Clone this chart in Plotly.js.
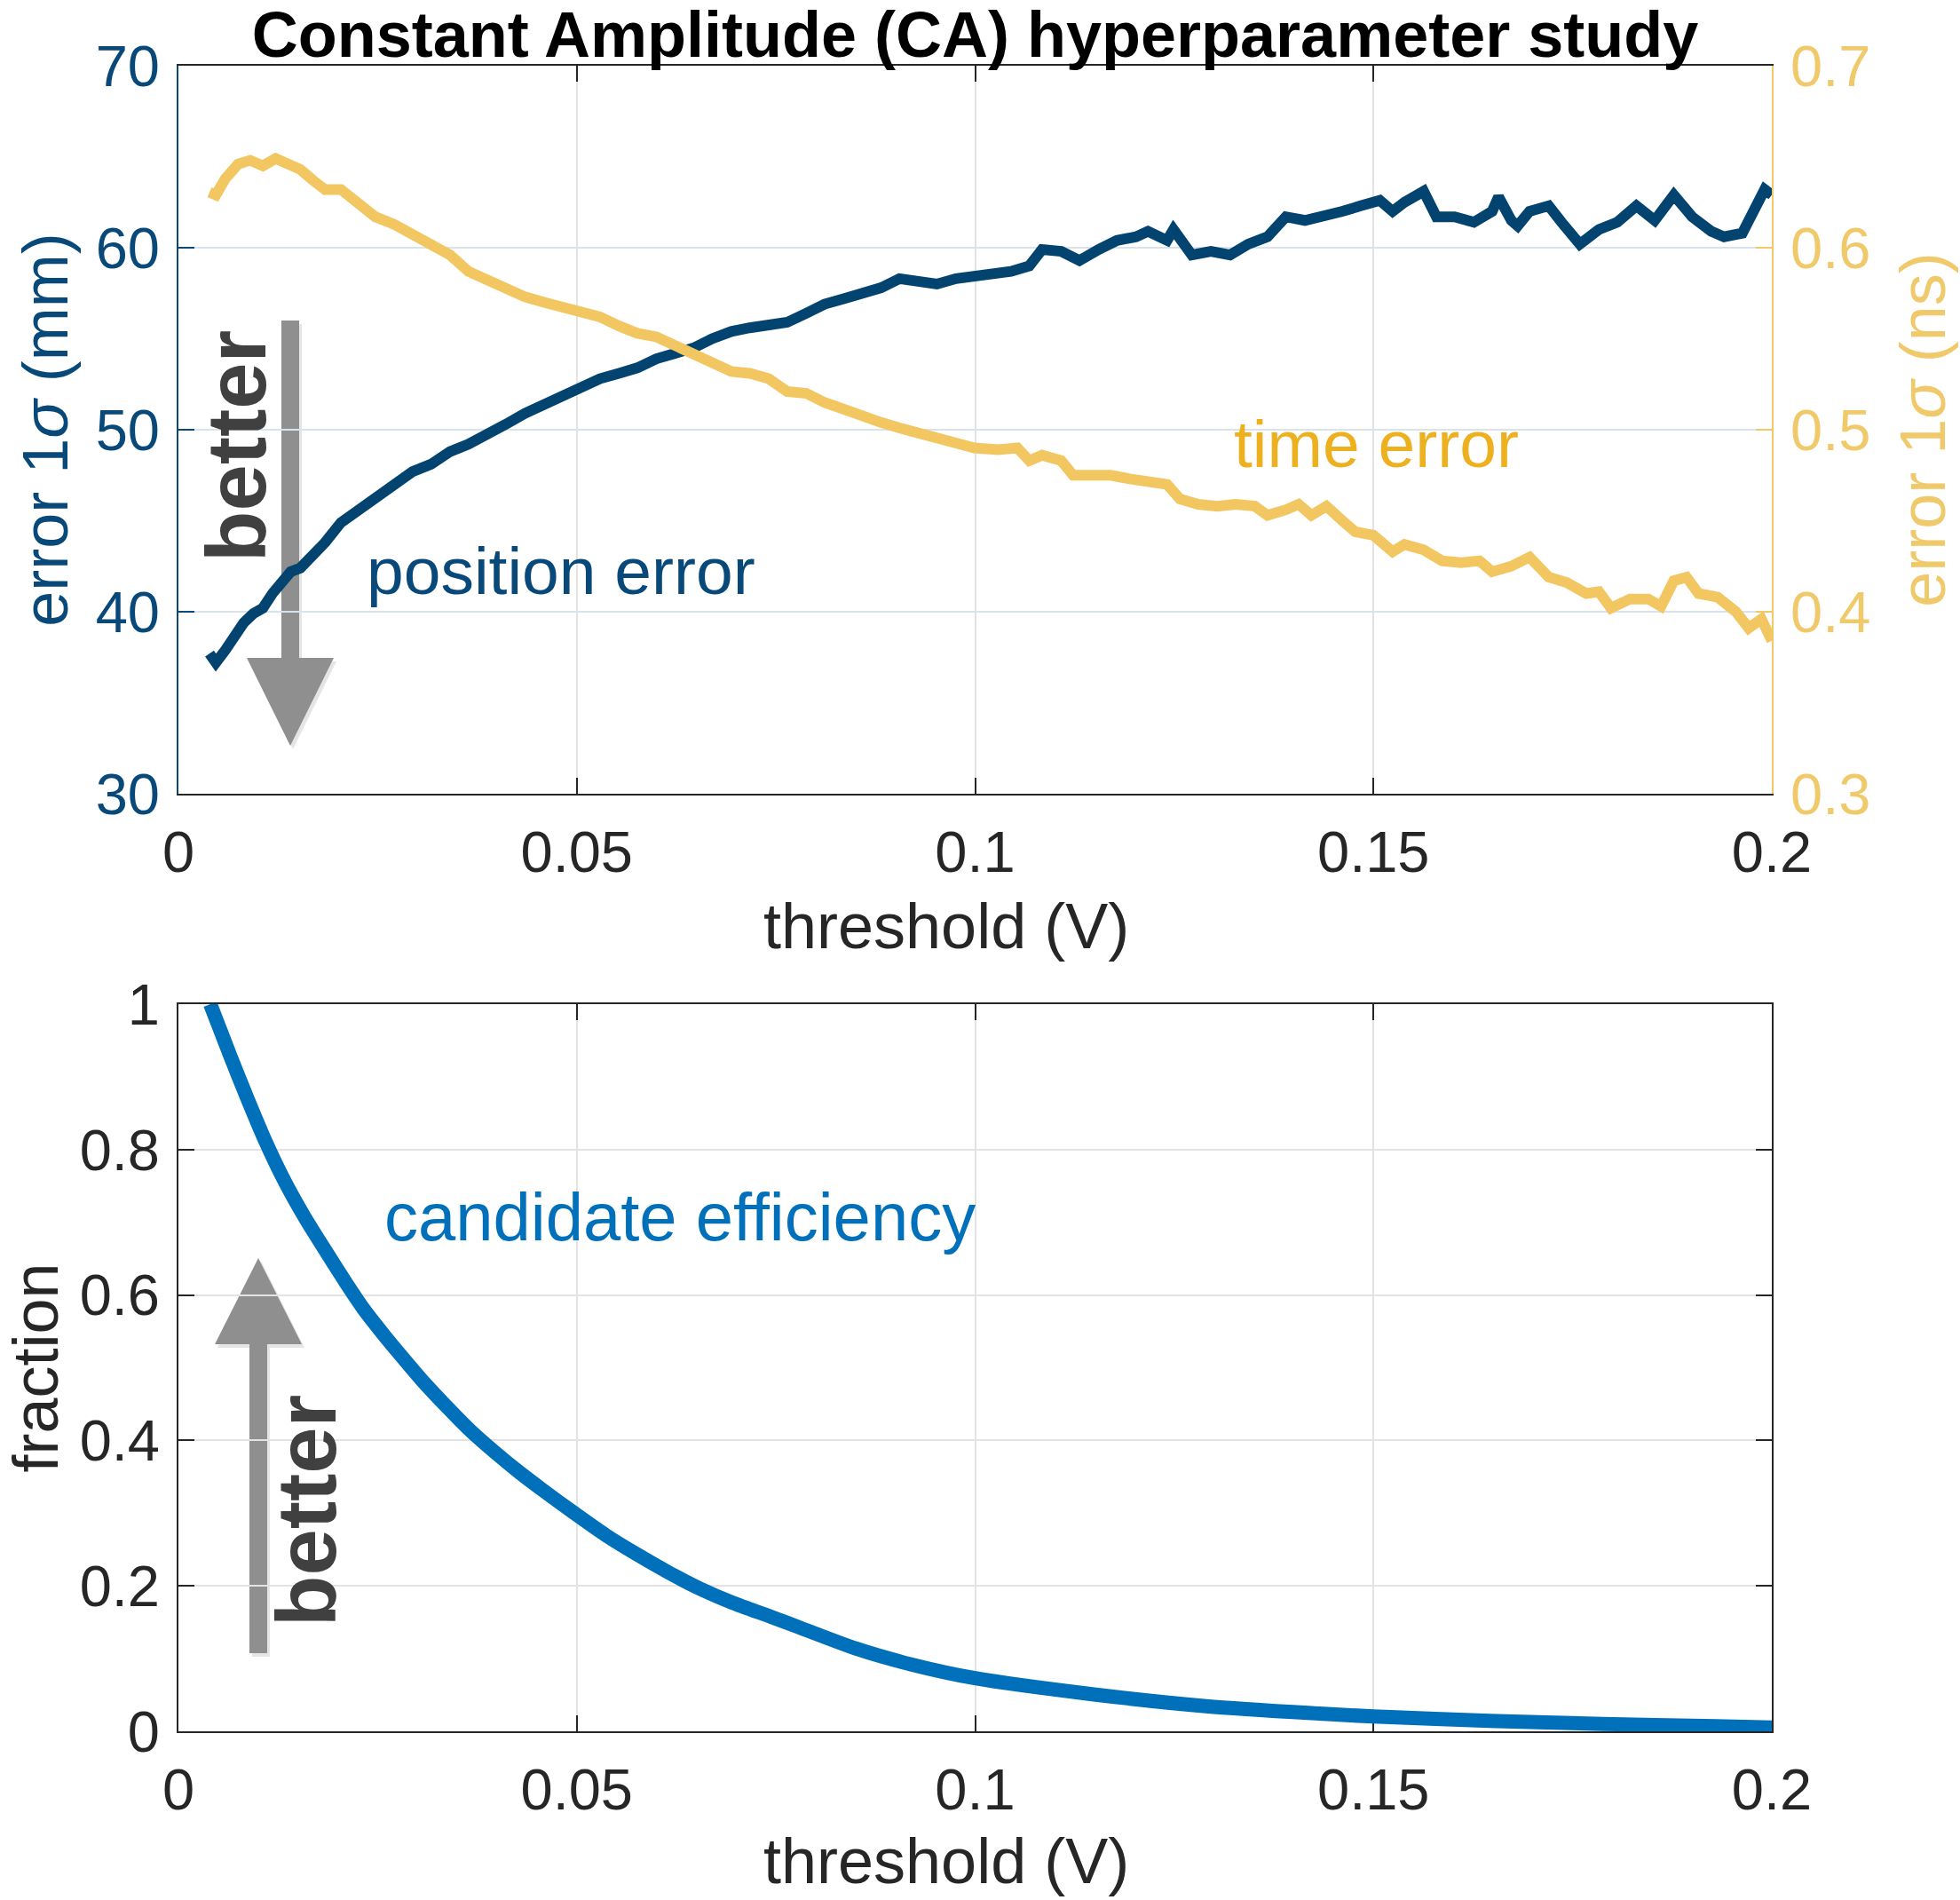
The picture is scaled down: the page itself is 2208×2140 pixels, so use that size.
<!DOCTYPE html>
<html>
<head>
<meta charset="utf-8">
<script src="https://cdn.plot.ly/plotly-3.0.1.min.js"></script>
<style>
  html, body { margin: 0; padding: 0; background: #fff; }
  #chart { width: 2208px; height: 2140px; }
</style>
</head>
<body>
<div id="chart"></div>
<script>
/* ── CA hyperparameter study ── */

const POS_X = [
  0.0039, 0.0047, 0.0059, 0.0071, 0.0082, 0.0094, 0.0106, 0.0118, 0.0129, 0.0141,
  0.0153, 0.0169, 0.0184, 0.0204, 0.0223, 0.0247, 0.0270, 0.0294, 0.0317, 0.0341,
  0.0364, 0.0388, 0.0411, 0.0435, 0.0459, 0.0482, 0.0506, 0.0529, 0.0553, 0.0576,
  0.0600, 0.0623, 0.0647, 0.0670, 0.0694, 0.0717, 0.0741, 0.0764, 0.0788, 0.0811,
  0.0835, 0.0858, 0.0882, 0.0905, 0.0929, 0.0952, 0.0976, 0.0999,
  0.1045, 0.1068, 0.1084, 0.1108, 0.1131, 0.1155, 0.1178, 0.1202, 0.1217, 0.1241,
  0.1249, 0.1272, 0.1296, 0.1320, 0.1343, 0.1367, 0.1390, 0.1414, 0.1437, 0.1461,
  0.1484, 0.1508, 0.1524, 0.1539, 0.1563, 0.1579, 0.1602, 0.1626, 0.1649, 0.1657,
  0.1673, 0.1681, 0.1696, 0.1720, 0.1736, 0.1759, 0.1783, 0.1806, 0.1830, 0.1853,
  0.1877, 0.1900, 0.1924, 0.1940, 0.1963, 0.1979, 0.1991, 0.2000
];
const POS_ERR = [
  37.7, 37.2, 37.9, 38.8, 39.4, 39.9, 40.2, 41.0, 41.6, 42.2,
  42.4, 43.1, 43.8, 44.9, 45.5, 46.3, 46.9, 47.7, 48.1, 48.8,
  49.2, 49.7, 50.3, 50.9, 51.4, 51.9, 52.3, 52.8, 53.1, 53.4,
  53.9, 54.2, 54.5, 55.0, 55.4, 55.6, 55.7, 55.9, 56.4, 56.9,
  57.2, 57.5, 57.8, 58.3, 58.1, 58.0, 58.3, 58.4,
  58.7, 59.0, 59.9, 59.8, 59.3, 59.9, 60.4, 60.6, 60.9, 60.4,
  61.0, 59.6, 59.8, 59.6, 60.2, 60.6, 61.7, 61.5, 61.7, 62.0,
  62.3, 62.6, 62.0, 62.5, 63.1, 61.7, 61.7, 61.4, 62.0, 62.8,
  61.5, 61.2, 62.0, 62.3, 61.4, 60.2, 61.0, 61.4, 62.3, 61.5,
  62.9, 61.7, 60.9, 60.6, 60.8, 62.2, 63.2, 62.9
];

const TIME_X = [
  0.0039, 0.0047, 0.0059, 0.0075, 0.0090, 0.0106, 0.0122, 0.0137, 0.0153, 0.0169,
  0.0184, 0.0204, 0.0223, 0.0247, 0.0270, 0.0294, 0.0317, 0.0341, 0.0364, 0.0388,
  0.0411, 0.0435, 0.0459, 0.0482, 0.0506, 0.0529, 0.0553, 0.0576, 0.0600, 0.0623,
  0.0647, 0.0670, 0.0694, 0.0717, 0.0741, 0.0764, 0.0788, 0.0811, 0.0835, 0.0858,
  0.0882, 0.0905, 0.0929, 0.0952, 0.0976, 0.0999,
  0.1029, 0.1053, 0.1068, 0.1084, 0.1108, 0.1123, 0.1147, 0.1170, 0.1194, 0.1217,
  0.1241, 0.1257, 0.1280, 0.1304, 0.1327, 0.1351, 0.1367, 0.1390, 0.1406, 0.1422,
  0.1441, 0.1461, 0.1477, 0.1500, 0.1524, 0.1539, 0.1563, 0.1586, 0.1610, 0.1633,
  0.1649, 0.1673, 0.1696, 0.1720, 0.1743, 0.1767, 0.1783, 0.1798, 0.1822, 0.1845,
  0.1861, 0.1877, 0.1893, 0.1908, 0.1932, 0.1955, 0.1971, 0.1987, 0.2000
];
const TIME_ERR = [
  0.6305, 0.629, 0.638, 0.646, 0.648, 0.645, 0.649, 0.646, 0.643, 0.637,
  0.632, 0.632, 0.626, 0.617, 0.613, 0.607, 0.601, 0.596, 0.587, 0.582,
  0.578, 0.573, 0.570, 0.567, 0.565, 0.562, 0.557, 0.553, 0.551, 0.546,
  0.542, 0.537, 0.532, 0.531, 0.528, 0.521, 0.520, 0.515, 0.511, 0.507,
  0.504, 0.501, 0.498, 0.495, 0.493, 0.490,
  0.489, 0.490, 0.483, 0.486, 0.483, 0.475, 0.475, 0.475, 0.473, 0.472,
  0.470, 0.462, 0.459, 0.458, 0.459, 0.458, 0.453, 0.456, 0.459, 0.453,
  0.458, 0.450, 0.444, 0.442, 0.433, 0.437, 0.434, 0.428, 0.427, 0.428,
  0.422, 0.425, 0.430, 0.419, 0.416, 0.410, 0.411, 0.402, 0.407, 0.407,
  0.403, 0.417, 0.419, 0.410, 0.408, 0.400, 0.391, 0.396, 0.384
];

const EFF_X = [
  0.0040, 0.0065, 0.0087, 0.0109, 0.0134, 0.0159, 0.0184, 0.0209, 0.0233, 0.0258,
  0.0283, 0.0308, 0.0338, 0.0367, 0.0397, 0.0427, 0.0457, 0.0497, 0.0536, 0.0576,
  0.0616, 0.0655, 0.0695, 0.0745, 0.0779, 0.0850, 0.0920, 0.1000, 0.1147, 0.1290,
  0.1432, 0.1500, 0.1646, 0.1788, 0.1930, 0.2000
];
const EFF = [
  1.000, 0.929, 0.869, 0.812, 0.755, 0.706, 0.662, 0.619, 0.580, 0.545,
  0.512, 0.480, 0.445, 0.413, 0.384, 0.357, 0.332, 0.300, 0.270, 0.243,
  0.218, 0.196, 0.177, 0.157, 0.143, 0.114, 0.092, 0.073, 0.051, 0.0346,
  0.0244, 0.0204, 0.0143, 0.0102, 0.0069, 0.0053
];

const X_TICKS      = [0, 0.05, 0.1, 0.15, 0.2];
const X_TICK_TEXT  = ["0", "0.05", "0.1", "0.15", "0.2"];
const MM_TICKS     = [30, 40, 50, 60, 70];
const NS_TICKS     = [0.3, 0.4, 0.5, 0.6, 0.7];
const NS_TICK_TEXT = ["0.3", "0.4", "0.5", "0.6", "0.7"];
const FR_TICKS     = [0, 0.2, 0.4, 0.6, 0.8, 1];
const FR_TICK_TEXT = ["0", "0.2", "0.4", "0.6", "0.8", "1"];

/* ── colours ── */
const POS_COLOR   = "#03436f";
const POS_TEXT    = "#08497a";
const TIME_COLOR  = "#f2c762";
const TIME_TEXT   = "#edb120";
const TIME_AXIS   = "#f0c96a";
const EFF_COLOR   = "#0070bb";
const INK         = "#262626";
const ARROW_GRAY  = "#8f8f8f";
const FONT        = "Liberation Sans, Arial, Helvetica, sans-serif";

/* ── pixel → paper helpers (plot area 201..1996 x 74..1950) ── */
const L = 201, R = 1996, T = 74, B = 1950;
const px = x => (x - L) / (R - L);
const py = y => 1 - (y - T) / (B - T);

function arrowPath(cx, yTail, yBase, yTip, sh, hh) {
  const p = (x, y) => `${px(x)},${py(y)}`;
  return `M ${p(cx - sh, yTail)} L ${p(cx + sh, yTail)} L ${p(cx + sh, yBase)} ` +
         `L ${p(cx + hh, yBase)} L ${p(cx, yTip)} L ${p(cx - hh, yBase)} ` +
         `L ${p(cx - sh, yBase)} Z`;
}

const traces = [
  {
    type: "scatter", mode: "lines", name: "position error",
    x: POS_X, y: POS_ERR, xaxis: "x", yaxis: "y",
    line: { color: POS_COLOR, width: 12 },
    hoverinfo: "skip",
  },
  {
    type: "scatter", mode: "lines", name: "time error",
    x: TIME_X, y: TIME_ERR, xaxis: "x", yaxis: "y2",
    line: { color: TIME_COLOR, width: 12 },
    hoverinfo: "skip",
  },
  {
    type: "scatter", mode: "lines", name: "candidate efficiency",
    x: EFF_X, y: EFF, xaxis: "x2", yaxis: "y3",
    line: { color: EFF_COLOR, width: 16, shape: "spline", smoothing: 0.8 },
    hoverinfo: "skip",
  },
];

const tickFont  = { family: FONT, size: 65, color: INK };
const titleFont = { family: FONT, size: 72, color: INK };

const xCommon = {
  range: [0, 0.2], tickmode: "array", tickvals: X_TICKS, ticktext: X_TICK_TEXT,
  ticks: "inside", ticklen: 18, tickwidth: 2, tickcolor: INK,
  showline: true, linecolor: INK, linewidth: 2, mirror: "ticks",
  showgrid: true, gridcolor: "#e3e3e3", gridwidth: 2,
  zeroline: false, automargin: false, tickfont: tickFont,
  ticklabelstandoff: 8,
  domain: [0, 1],
};

const layout = {
  width: 2208, height: 2140,
  paper_bgcolor: "#ffffff", plot_bgcolor: "#ffffff",
  margin: { l: L, r: 2208 - R, t: T, b: 2140 - B },
  showlegend: false,
  font: { family: FONT, color: INK },
  title: {
    text: "<b>Constant Amplitude (CA) hyperparameter study</b>",
    font: { family: FONT, size: 72, color: "#000000" },
    x: (L + R) / 2 / 2208, xref: "container", xanchor: "center",
    y: 1 - 39 / 2140, yref: "container", yanchor: "middle",
  },
  xaxis: Object.assign({}, xCommon, { anchor: "y" }),
  yaxis: {
    domain: [py(894), 1], anchor: "x",
    range: [30, 70], tickmode: "array", tickvals: MM_TICKS,
    ticks: "inside", ticklen: 18, tickwidth: 2, tickcolor: POS_TEXT,
    showline: true, linecolor: POS_TEXT, linewidth: 2,
    showgrid: true, gridcolor: "#dbe3ea", gridwidth: 2,
    zeroline: false, automargin: false,
    tickfont: { family: FONT, size: 65, color: POS_TEXT },
    ticklabelstandoff: 6,
    title: { text: "error 1<i>σ</i> (mm)", font: { family: FONT, size: 72, color: POS_TEXT }, standoff: 7 },
  },
  yaxis2: {
    overlaying: "y", side: "right", anchor: "x",
    range: [0.3, 0.7], tickmode: "array", tickvals: NS_TICKS, ticktext: NS_TICK_TEXT,
    ticks: "inside", ticklen: 18, tickwidth: 2, tickcolor: TIME_AXIS,
    showline: true, linecolor: TIME_AXIS, linewidth: 2,
    showgrid: false, zeroline: false, automargin: false,
    tickfont: { family: FONT, size: 65, color: TIME_AXIS },
    ticklabelstandoff: 6,
    title: { text: "error 1<i>σ</i> (ns)", font: { family: FONT, size: 72, color: TIME_AXIS }, standoff: 34 },
  },
  xaxis2: Object.assign({}, xCommon, { anchor: "y3", layer: "below traces" }),
  yaxis3: {
    domain: [0, py(1131)], anchor: "x2",
    range: [0, 1], tickmode: "array", tickvals: FR_TICKS, ticktext: FR_TICK_TEXT,
    ticks: "inside", ticklen: 18, tickwidth: 2, tickcolor: INK,
    showline: true, linecolor: INK, linewidth: 2, mirror: "ticks",
    showgrid: true, gridcolor: "#e3e3e3", gridwidth: 2,
    zeroline: false, automargin: false, tickfont: tickFont,
    ticklabelstandoff: 6,
    title: { text: "fraction", font: titleFont, standoff: 30 },
  },
  shapes: [
    /* soft shadows, then the grey "better" arrows */
    { type: "path", xref: "paper", yref: "paper", layer: "between",
      path: arrowPath(330, 365, 745, 844, 10, 49),
      fillcolor: "rgba(0,0,0,0.10)", line: { width: 0 } },
    { type: "path", xref: "paper", yref: "paper", layer: "between",
      path: arrowPath(327, 361, 741, 840, 10, 49),
      fillcolor: ARROW_GRAY, line: { width: 0 } },
    { type: "path", xref: "paper", yref: "paper", layer: "between",
      path: arrowPath(294, 1866, 1518, 1420, 10, 49),
      fillcolor: "rgba(0,0,0,0.10)", line: { width: 0 } },
    { type: "path", xref: "paper", yref: "paper", layer: "between",
      path: arrowPath(291, 1862, 1514, 1417, 10, 49),
      fillcolor: ARROW_GRAY, line: { width: 0 } },
  ],
  annotations: [
    /* x-axis titles (sit a little left of centre in the original) */
    { xref: "paper", yref: "paper", x: px(1066), y: py(1043), xanchor: "center", yanchor: "middle",
      text: "threshold (V)", showarrow: false, font: titleFont },
    { xref: "paper", yref: "paper", x: px(1066), y: py(2096), xanchor: "center", yanchor: "middle",
      text: "threshold (V)", showarrow: false, font: titleFont },
    /* in-plot labels */
    { xref: "x", yref: "y", x: 0.0234, y: 42.24, xanchor: "left", yanchor: "middle",
      text: "position error", showarrow: false,
      font: { family: FONT, size: 75, color: POS_TEXT } },
    { xref: "x", yref: "y", x: 0.1322, y: 49.22, xanchor: "left", yanchor: "middle",
      text: "time error", showarrow: false,
      font: { family: FONT, size: 75, color: TIME_TEXT } },
    { xref: "x2", yref: "y3", x: 0.0256, y: 0.707, xanchor: "left", yanchor: "middle",
      text: "candidate efficiency", showarrow: false,
      font: { family: FONT, size: 76, color: EFF_COLOR } },
    { xref: "paper", yref: "paper", x: px(266), y: py(503), xanchor: "center", yanchor: "middle",
      text: "<b>better</b>", textangle: -90, showarrow: false,
      font: { family: FONT, size: 94, color: "#404040" } },
    { xref: "paper", yref: "paper", x: px(345), y: py(1702), xanchor: "center", yanchor: "middle",
      text: "<b>better</b>", textangle: -90, showarrow: false,
      font: { family: FONT, size: 94, color: "#404040" } },
  ],
};

Plotly.newPlot("chart", traces, layout, { staticPlot: true, displayModeBar: false });
</script>
</body>
</html>
